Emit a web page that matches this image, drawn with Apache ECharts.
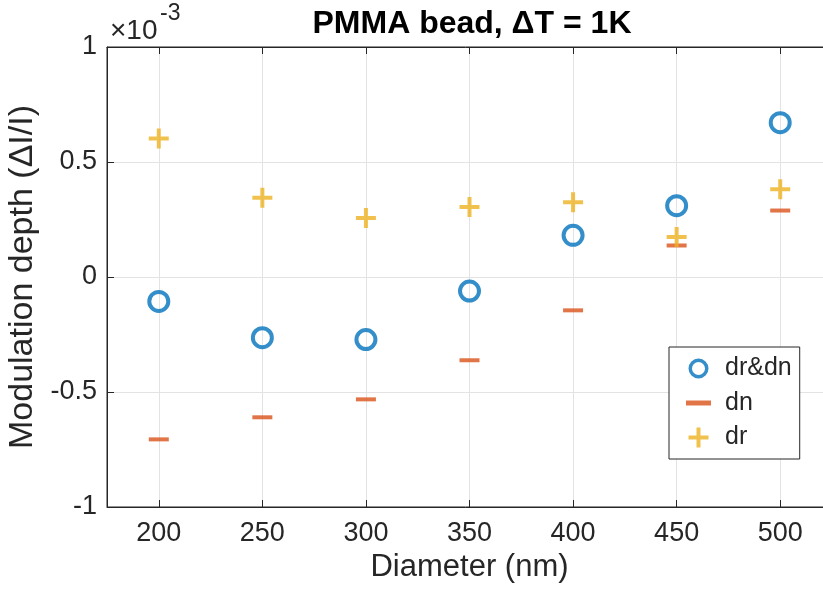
<!DOCTYPE html>
<html>
<head>
<meta charset="utf-8">
<script src="https://cdn.jsdelivr.net/npm/echarts@6/dist/echarts.min.js"></script>
<style>html,body{margin:0;padding:0;background:#fff;}#c{width:823px;height:590px;}</style>
</head>
<body>
<div id="c"></div>
<script>
// Data (values in units of 1e-3)
var diameters = [200, 250, 300, 350, 400, 450, 500];
var drdn = [-0.106, -0.264, -0.272, -0.061, 0.181, 0.310, 0.671];
var dn = [-0.706, -0.610, -0.532, -0.362, -0.145, 0.137, 0.289];
var dr = [0.602, 0.345, 0.257, 0.304, 0.325, 0.174, 0.381];
var xTicks = [200, 250, 300, 350, 400, 450, 500];
var yTicks = [-1, -0.5, 0, 0.5, 1];

function pairs(xs, ys) { return xs.map(function (x, i) { return [x, ys[i]]; }); }

var FONT = 'Liberation Sans';
var AX = '#262626';
var RING = 'path://M11.5,0A11.5,11.5,0,1,1,11.5,23A11.5,11.5,0,1,1,11.5,0ZM11.5,4A7.5,7.5,0,1,0,11.5,19A7.5,7.5,0,1,0,11.5,4Z';
var DASH = 'path://M0,0H20V4H0Z';
var PLUS = 'path://M8,0H12V8H20V12H12V20H8V12H0V8H8Z';
var chart = echarts.init(document.getElementById('c'), null, { renderer: 'canvas' });
chart.setOption({
  animation: false,
  backgroundColor: '#fff',
  textStyle: { fontFamily: FONT },
  title: {
    text: 'PMMA bead, \u0394T = 1K',
    left: 467, textAlign: 'center', top: 3,
    textStyle: { fontFamily: FONT, fontSize: 32, fontWeight: 'bold', color: '#000' }
  },
  grid: {
    left: 107, top: 47, width: 725, height: 460,
    outerBoundsMode: 'none', containLabel: false,
    show: true, borderColor: AX, borderWidth: 1, backgroundColor: '#fff'
  },
  legend: {
    orient: 'vertical', left: 669, top: 347,
    itemWidth: 25, itemHeight: 20, itemGap: 9.5,
    padding: [9, 8, 9, 17],
    backgroundColor: '#fff', borderColor: AX, borderWidth: 1, borderRadius: 0,
    selectedMode: false,
    textStyle: { fontFamily: FONT, fontSize: 25, color: AX, lineHeight: 20, padding: [0, 0, 0, 9] },
    data: [
      { name: 'dr&dn', icon: RING },
      { name: 'dn', icon: DASH },
      { name: 'dr', icon: PLUS }
    ]
  },
  xAxis: [{
    type: 'value', min: 175, max: 525,
    name: 'Diameter (nm)', nameLocation: 'middle', nameGap: 41,
    nameTextStyle: { fontFamily: FONT, fontSize: 31, color: AX },
    axisLine: { show: true, onZero: false, lineStyle: { color: AX, width: 1 } },
    axisTick: { show: true, inside: true, length: 7, lineStyle: { color: AX }, customValues: xTicks },
    axisLabel: { show: true, margin: 13, fontFamily: FONT, fontSize: 27, color: AX, customValues: xTicks },
    splitLine: { show: true, lineStyle: { color: '#e3e3e3', width: 1 } }
  }, {
    type: 'value', min: 175, max: 525, position: 'top',
    axisLine: { show: true, onZero: false, lineStyle: { color: AX, width: 1 } },
    axisTick: { show: true, inside: true, length: 7, lineStyle: { color: AX }, customValues: xTicks },
    axisLabel: { show: false },
    splitLine: { show: false }
  }],
  yAxis: {
    type: 'value', min: -1, max: 1, interval: 0.5,
    name: 'Modulation depth (\u0394I/I)', nameLocation: 'middle', nameGap: 62,
    nameTextStyle: { fontFamily: FONT, fontSize: 34, color: AX },
    axisLine: { show: true, onZero: false, lineStyle: { color: AX, width: 1 } },
    axisTick: { show: true, inside: true, length: 7, lineStyle: { color: AX } },
    axisLabel: { margin: 10, fontFamily: FONT, fontSize: 27, color: AX },
    splitLine: { show: true, lineStyle: { color: '#e3e3e3', width: 1 } }
  },
  graphic: [
    { type: 'text', left: 110, top: 17, style: { text: '\u00d710', fontFamily: FONT, fontSize: 28, fill: AX } },
    { type: 'text', left: 160, top: 2, style: { text: '-3', fontFamily: FONT, fontSize: 23, fill: AX } }
  ],
  series: [{
    name: 'dr&dn', type: 'scatter', data: pairs(diameters, drdn),
    symbol: RING, symbolSize: 23,
    itemStyle: { color: '#0072BD' }, z: 3
  }, {
    name: 'dn', type: 'scatter', data: pairs(diameters, dn),
    symbol: DASH, symbolSize: [20, 4],
    itemStyle: { color: '#D95319' }, z: 2
  }, {
    name: 'dr', type: 'scatter', data: pairs(diameters, dr),
    symbol: PLUS, symbolSize: 20,
    itemStyle: { color: '#EDB120' }, z: 4
  }]
});
</script>
</body>
</html>
